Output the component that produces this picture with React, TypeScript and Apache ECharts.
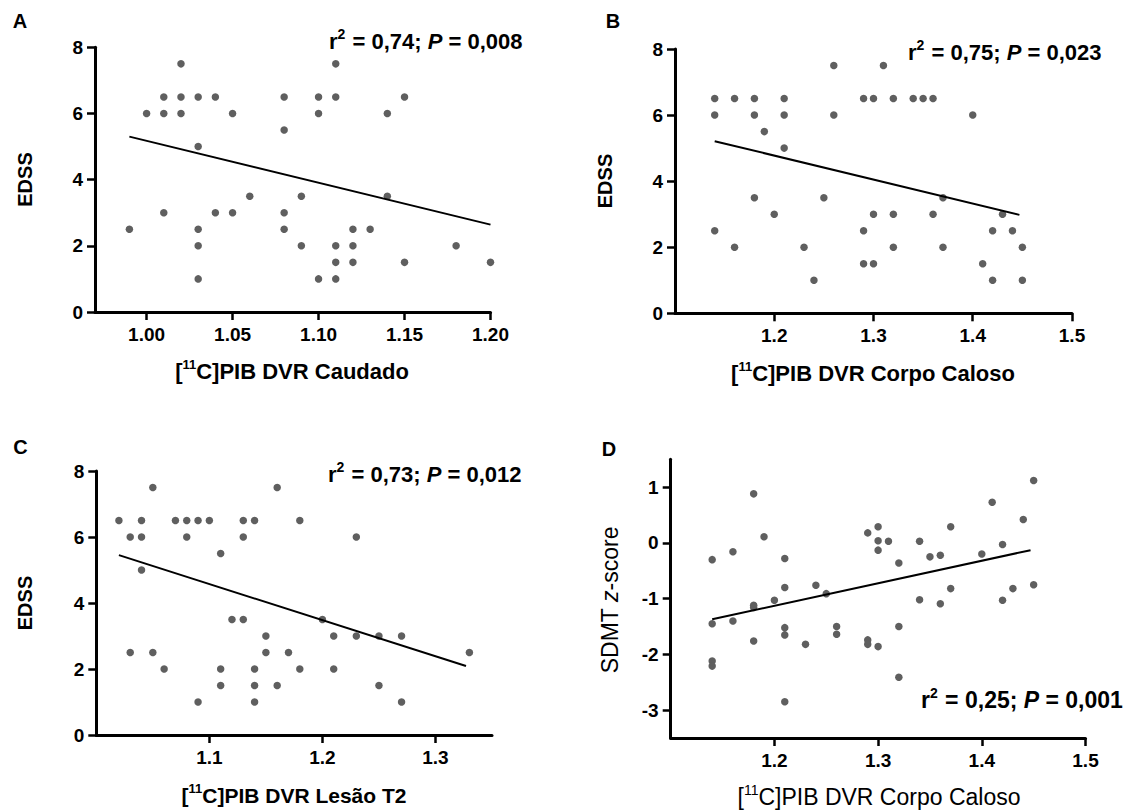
import React, { useEffect, useRef } from 'react';
import * as echarts from 'echarts';

const FONT = '"Liberation Sans", Arial, Helvetica, sans-serif';

// Panel A: caudate DVR vs EDSS
const caudadoDVR = [
  0.99, 1.0, 1.01, 1.01, 1.01, 1.02, 1.02, 1.02, 1.03, 1.03, 1.03, 1.03, 1.03, 1.04, 1.04,
  1.05, 1.05, 1.06, 1.08, 1.08, 1.08, 1.08, 1.09, 1.09, 1.1, 1.1, 1.1, 1.11, 1.11, 1.11,
  1.11, 1.11, 1.12, 1.12, 1.12, 1.13, 1.14, 1.14, 1.15, 1.15, 1.18, 1.2,
];
const edssA = [
  2.5, 6, 6.5, 6, 3, 7.5, 6.5, 6, 6.5, 5, 2.5, 2, 1, 6.5, 3,
  6, 3, 3.5, 6.5, 5.5, 3, 2.5, 3.5, 2, 6.5, 6, 1, 7.5, 6.5, 2,
  1.5, 1, 2.5, 2, 1.5, 2.5, 6, 3.5, 6.5, 1.5, 2, 1.5,
];
const fitAX = [0.99, 1.2];
const fitAY = [5.3, 2.64];

// Panel B: corpus callosum DVR vs EDSS
const corpoDVR_B = [
  1.14, 1.14, 1.14, 1.16, 1.16, 1.18, 1.18, 1.18, 1.19, 1.2, 1.21, 1.21, 1.21, 1.23, 1.24,
  1.25, 1.26, 1.26, 1.29, 1.29, 1.29, 1.3, 1.3, 1.3, 1.31, 1.32, 1.32, 1.32, 1.34, 1.35,
  1.36, 1.36, 1.37, 1.37, 1.4, 1.41, 1.42, 1.42, 1.43, 1.44, 1.45, 1.45,
];
const edssB = [
  6.5, 6, 2.5, 6.5, 2, 6.5, 6, 3.5, 5.5, 3, 6.5, 6, 5, 2, 1,
  3.5, 7.5, 6, 6.5, 2.5, 1.5, 6.5, 3, 1.5, 7.5, 6.5, 3, 2, 6.5, 6.5,
  6.5, 3, 3.5, 2, 6, 1.5, 2.5, 1, 3, 2.5, 2, 1,
];
const fitBX = [1.14, 1.447];
const fitBY = [5.21, 2.98];

// Panel C: T2 lesion DVR vs EDSS
const lesaoDVR = [
  1.02, 1.03, 1.03, 1.04, 1.04, 1.04, 1.05, 1.05, 1.06, 1.07, 1.08, 1.08, 1.09, 1.09, 1.1,
  1.11, 1.11, 1.11, 1.12, 1.13, 1.13, 1.13, 1.14, 1.14, 1.14, 1.14, 1.15, 1.15, 1.16, 1.16,
  1.17, 1.18, 1.18, 1.2, 1.21, 1.21, 1.23, 1.23, 1.25, 1.25, 1.27, 1.27, 1.33,
];
const edssC = [
  6.5, 6, 2.5, 6.5, 6, 5, 7.5, 2.5, 2, 6.5, 6.5, 6, 6.5, 1, 6.5,
  5.5, 2, 1.5, 3.5, 6.5, 6, 3.5, 6.5, 2, 1.5, 1, 3, 2.5, 7.5, 1.5,
  2.5, 6.5, 2, 3.5, 3, 2, 6, 3, 3, 1.5, 3, 1, 2.5,
];
const fitCX = [1.02, 1.327];
const fitCY = [5.45, 2.09];

// Panel D: corpus callosum DVR vs SDMT z-score
const corpoDVR_D = [
  1.14, 1.14, 1.14, 1.14, 1.16, 1.16, 1.18, 1.18, 1.18, 1.18, 1.19, 1.2, 1.21, 1.21, 1.21,
  1.21, 1.21, 1.23, 1.24, 1.25, 1.26, 1.26, 1.29, 1.29, 1.29, 1.3, 1.3, 1.3, 1.3, 1.31,
  1.32, 1.32, 1.32, 1.34, 1.34, 1.35, 1.36, 1.36, 1.37, 1.37, 1.4, 1.41, 1.42, 1.42, 1.43,
  1.44, 1.45, 1.45,
];
const sdmtD = [
  -0.3, -1.45, -2.12, -2.21, -0.16, -1.4, 0.88, -1.12, -1.16, -1.76, 0.11, -1.03, -0.28, -0.8, -1.52,
  -1.65, -2.85, -1.82, -0.76, -0.91, -1.5, -1.64, 0.18, -1.74, -1.82, 0.29, 0.04, -0.13, -1.86, 0.03,
  -0.36, -1.5, -2.41, 0.03, -1.02, -0.25, -0.22, -1.09, 0.29, -0.82, -0.2, 0.73, -0.03, -1.03, -0.82,
  0.42, 1.12, -0.75,
];
const fitDX = [1.14, 1.447];
const fitDY = [-1.37, -0.13];

// Tick values
const ticksXA = [1.0, 1.05, 1.1, 1.15, 1.2];
const ticksXBD = [1.2, 1.3, 1.4, 1.5];
const ticksXC = [1.1, 1.2, 1.3];
const ticksEDSS = [0, 2, 4, 6, 8];
const ticksSDMT = [-3, -2, -1, 0, 1];

const pairs = (xs: number[], ys: number[]) => xs.map((x, i) => [x, ys[i]]);

const AXIS_COLOR = '#000';
const DOT_COLOR = '#5f5f5f';

function xAxis(gridIndex: number, min: number, max: number, ticks: number[], decimals: number) {
  return {
    type: 'value',
    gridIndex,
    min,
    max,
    axisLine: { show: true, onZero: false, lineStyle: { color: AXIS_COLOR, width: 3 } },
    axisTick: { show: true, customValues: ticks, length: 8, lineStyle: { color: AXIS_COLOR, width: 2.5 } },
    axisLabel: {
      customValues: ticks,
      formatter: (v: number) => v.toFixed(decimals),
      color: '#000',
      fontFamily: FONT,
      fontWeight: 'bold',
      fontSize: 19,
      margin: 13,
    },
    splitLine: { show: false },
  };
}

function yAxis(gridIndex: number, min: number, max: number, ticks: number[]) {
  return {
    type: 'value',
    gridIndex,
    min,
    max,
    axisLine: { show: true, onZero: false, lineStyle: { color: AXIS_COLOR, width: 3 } },
    axisTick: { show: true, customValues: ticks, length: 8, lineStyle: { color: AXIS_COLOR, width: 2.5 } },
    axisLabel: {
      customValues: ticks,
      formatter: (v: number) => String(v),
      color: '#000',
      fontFamily: FONT,
      fontWeight: 'bold',
      fontSize: 19,
      margin: 12,
    },
    splitLine: { show: false },
  };
}

function scatter(i: number, xs: number[], ys: number[]) {
  return {
    type: 'scatter',
    xAxisIndex: i,
    yAxisIndex: i,
    data: pairs(xs, ys),
    symbol: 'circle',
    symbolSize: 7.5,
    itemStyle: { color: DOT_COLOR, opacity: 1 },
    silent: true,
  };
}

function fitLine(i: number, xs: number[], ys: number[]) {
  return {
    type: 'line',
    xAxisIndex: i,
    yAxisIndex: i,
    data: pairs(xs, ys),
    symbol: 'none',
    lineStyle: { color: '#000', width: 2 },
    silent: true,
    z: 3,
  };
}

function panelLetter(text: string, x: number, y: number) {
  return {
    type: 'text',
    x,
    y,
    style: {
      text,
      fill: '#000',
      font: `bold 20px ${FONT}`,
      align: 'center',
      verticalAlign: 'middle',
    },
  };
}

function statText(x: number, y: number, r2: string, p: string, size: number) {
  return {
    type: 'text',
    x,
    y,
    style: {
      text: `{b|r}{s|2}{b| = ${r2}; }{i|P}{b| = ${p}}`,
      align: 'left',
      verticalAlign: 'middle',
      rich: {
        b: { fontFamily: FONT, fontWeight: 'bold', fontSize: size, fill: '#000', lineHeight: size + 3 },
        i: { fontFamily: FONT, fontWeight: 'bold', fontStyle: 'italic', fontSize: size, fill: '#000', lineHeight: size + 3 },
        s: { fontFamily: FONT, fontWeight: 'bold', fontSize: Math.round(size * 0.62), fill: '#000', lineHeight: size + 3, padding: [0, 1, 14, 0] },
      },
    },
  };
}

function xTitle(x: number, y: number, rest: string, bold: boolean, size: number) {
  const w = bold ? 'bold' : 'normal';
  return {
    type: 'text',
    x,
    y,
    style: {
      text: `{t|[}{s|11}{t|C]PIB DVR ${rest}}`,
      align: 'center',
      verticalAlign: 'middle',
      rich: {
        t: { fontFamily: FONT, fontWeight: w, fontSize: size, fill: '#000', lineHeight: size + 3 },
        s: { fontFamily: FONT, fontWeight: w, fontSize: Math.round(size * 0.6), fill: '#000', lineHeight: size + 3, padding: [0, 0, 14, 0] },
      },
    },
  };
}

function yTitle(x: number, y: number, text: string) {
  return {
    type: 'text',
    x,
    y,
    rotation: Math.PI / 2,
    style: {
      text,
      align: 'center',
      verticalAlign: 'middle',
      rich: {
        t: { fontFamily: FONT, fontWeight: 'bold', fontSize: 20, fill: '#000' },
        r: { fontFamily: FONT, fontWeight: 'normal', fontSize: 23, fill: '#000' },
        ri: { fontFamily: FONT, fontWeight: 'normal', fontStyle: 'italic', fontSize: 23, fill: '#000' },
      },
    },
  };
}

export default function App() {
  const ref = useRef<HTMLDivElement>(null);

  useEffect(() => {
    if (!ref.current) return;
    const chart = echarts.init(ref.current, undefined, { renderer: 'svg' });
    chart.setOption({
      animation: false,
      backgroundColor: '#fff',
      grid: [
        { left: 95, top: 47.3, width: 395.5, height: 264.7 },
        { left: 675, top: 49, width: 397, height: 264.3 },
        { left: 96.3, top: 471, width: 395.7, height: 264 },
        { left: 670.7, top: 459.3, width: 414.8, height: 278.7 },
      ],
      xAxis: [
        xAxis(0, 0.97, 1.2, ticksXA, 2),
        xAxis(1, 1.1, 1.5, ticksXBD, 1),
        xAxis(2, 1.0, 1.35, ticksXC, 1),
        xAxis(3, 1.1, 1.5, ticksXBD, 1),
      ],
      yAxis: [
        yAxis(0, 0, 8, ticksEDSS),
        yAxis(1, 0, 8, ticksEDSS),
        yAxis(2, 0, 8, ticksEDSS),
        yAxis(3, -3.5, 1.5, ticksSDMT),
      ],
      series: [
        scatter(0, caudadoDVR, edssA),
        fitLine(0, fitAX, fitAY),
        scatter(1, corpoDVR_B, edssB),
        fitLine(1, fitBX, fitBY),
        scatter(2, lesaoDVR, edssC),
        fitLine(2, fitCX, fitCY),
        scatter(3, corpoDVR_D, sdmtD),
        fitLine(3, fitDX, fitDY),
      ],
      graphic: [
        panelLetter('A', 20, 21),
        panelLetter('B', 613, 21),
        panelLetter('C', 20.5, 447),
        panelLetter('D', 609, 449),
        statText(329, 41, '0,74', '0,008', 22),
        statText(908, 52, '0,75', '0,023', 22),
        statText(328, 474, '0,73', '0,012', 22),
        statText(921, 700, '0,25', '0,001', 23),
        xTitle(292, 371, 'Caudado', true, 22),
        xTitle(873, 373, 'Corpo Caloso', true, 22),
        xTitle(294, 795, 'Lesão T2', true, 21),
        xTitle(879, 797, 'Corpo Caloso', false, 23),
        yTitle(25, 179.5, '{t|EDSS}'),
        yTitle(605, 181, '{t|EDSS}'),
        yTitle(25, 603, '{t|EDSS}'),
        yTitle(610, 600, '{r|SDMT }{ri|z}{r|-score}'),
      ],
    });
    return () => chart.dispose();
  }, []);

  return (
    <div
      ref={ref}
      style={{ position: 'fixed', left: 0, top: 0, width: 1138, height: 812, background: '#fff' }}
    />
  );
}
